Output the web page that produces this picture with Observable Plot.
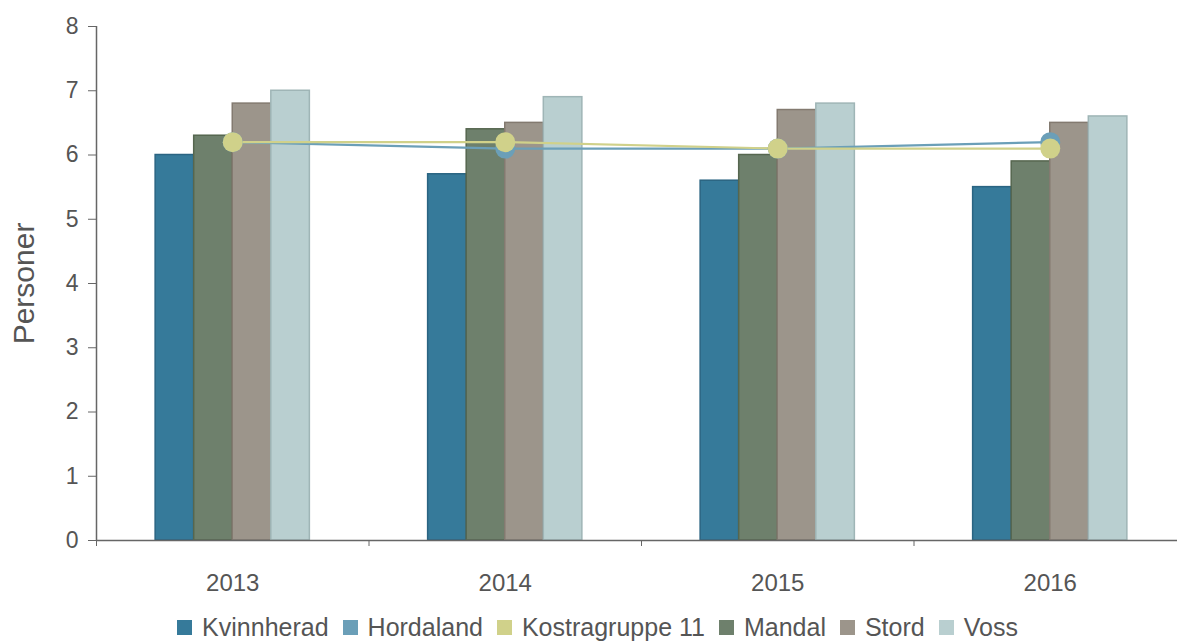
<!DOCTYPE html>
<html>
<head>
<meta charset="utf-8">
<script src="https://cdn.jsdelivr.net/npm/d3@7"></script>
<script src="https://cdn.jsdelivr.net/npm/@observablehq/plot@0.6"></script>
<style>
  html, body { margin: 0; padding: 0; background: #fff; overflow: hidden; }
  body { width: 1177px; height: 643px; font-family: "Liberation Sans", Arial, sans-serif; }
  #legend { display: flex; justify-content: center; align-items: center; height: 32px; margin-top: 1px; font-size: 25px; line-height: 28px; color: #555; padding-left: 18px; }
  .item { display: flex; align-items: center; margin: 0 7px; }
  .sw { width: 15px; height: 15px; margin-right: 10px; box-sizing: border-box; }
</style>
</head>
<body>
<div id="chart"></div>
<div id="legend"></div>
<script>
const years = [2013, 2014, 2015, 2016];
const kvinnherad = [6.0, 5.7, 5.6, 5.5];
const hordaland = [6.2, 6.1, 6.1, 6.2];
const kostragruppe11 = [6.2, 6.2, 6.1, 6.1];
const mandal = [6.3, 6.4, 6.0, 5.9];
const stord = [6.8, 6.5, 6.7, 6.5];
const voss = [7.0, 6.9, 6.8, 6.6];
const yTicks = [0, 1, 2, 3, 4, 5, 6, 7, 8];

const legendOrder = ["Kvinnherad", "Hordaland", "Kostragruppe 11", "Mandal", "Stord", "Voss"];
const fillColors = {
  "Kvinnherad": "#367a9a", "Hordaland": "#6b9fb8", "Kostragruppe 11": "#d0d18a",
  "Mandal": "#6e806c", "Stord": "#9c958b", "Voss": "#b9cfd0"
};
const strokeColors = {
  "Kvinnherad": "#2a6482", "Mandal": "#56664f", "Stord": "#837a70", "Voss": "#9fb5b6"
};

const barSeries = [["Kvinnherad", kvinnherad], ["Mandal", mandal], ["Stord", stord], ["Voss", voss]];
const bw = 0.1415; // bar width as a fraction of one year band
const bars = [];
barSeries.forEach(([name, vals], k) => {
  years.forEach((yr, i) => bars.push({series: name, year: yr, value: vals[i], slot: k}));
});
const lineSeries = [["Hordaland", hordaland], ["Kostragruppe 11", kostragruppe11]];
const points = [];
lineSeries.forEach(([name, vals]) => years.forEach((yr, i) => points.push({series: name, year: yr, value: vals[i]})));

const xMin = d3.min(years) - 0.5, xMax = d3.max(years) + 0.5;
const bounds = d3.range(xMin, xMax + 0.01, 1);
const textColor = "#555";

const plot = Plot.plot({
  width: 1177,
  height: 610,
  marginLeft: 96,
  marginRight: -9,
  marginTop: 26,
  marginBottom: 70,
  style: {fontFamily: "Liberation Sans, Arial, sans-serif", color: textColor, background: "#fff"},
  x: {type: "linear", domain: [xMin, xMax]},
  y: {domain: [0, 8]},
  marks: [
    Plot.rectY(bars, {
      x1: d => d.year + (d.slot - 2) * bw,
      x2: d => d.year + (d.slot - 1) * bw,
      y: "value",
      fill: d => fillColors[d.series],
      stroke: d => strokeColors[d.series],
      strokeWidth: 1.5
    }),
    ...lineSeries.map(([name]) => Plot.line(points.filter(p => p.series === name), {
      x: "year", y: "value", stroke: fillColors[name], strokeWidth: 2.2
    })),
    ...lineSeries.map(([name]) => Plot.dot(points.filter(p => p.series === name), {
      x: "year", y: "value", r: 10, fill: fillColors[name], stroke: "none"
    })),
    Plot.ruleY([0], {stroke: "#666", strokeWidth: 1.5}),
    Plot.ruleX([xMin], {y1: 0, y2: 8, stroke: "#666", strokeWidth: 1.5}),
    Plot.axisY({ticks: yTicks, tickSize: 8, tickPadding: 10, fontSize: 23, label: null, stroke: "#666"}),
    Plot.axisX({ticks: bounds, tickFormat: () => "", tickSize: 6, label: null, stroke: "#666"}),
    Plot.axisX({ticks: years, tickFormat: d => String(d), tickSize: 0, tickPadding: 33, fontSize: 24, label: null}),
    Plot.text(["Personer"], {frameAnchor: "left", textAnchor: "middle", rotate: -90, dx: -72, fontSize: 30, fill: textColor})
  ]
});
document.getElementById("chart").appendChild(plot);

const legend = document.getElementById("legend");
legendOrder.forEach(name => {
  const item = document.createElement("div");
  item.className = "item";
  const sw = document.createElement("div");
  sw.className = "sw";
  sw.style.background = fillColors[name];
  const label = document.createElement("span");
  label.textContent = name;
  item.appendChild(sw);
  item.appendChild(label);
  legend.appendChild(item);
});
</script>
</body>
</html>
